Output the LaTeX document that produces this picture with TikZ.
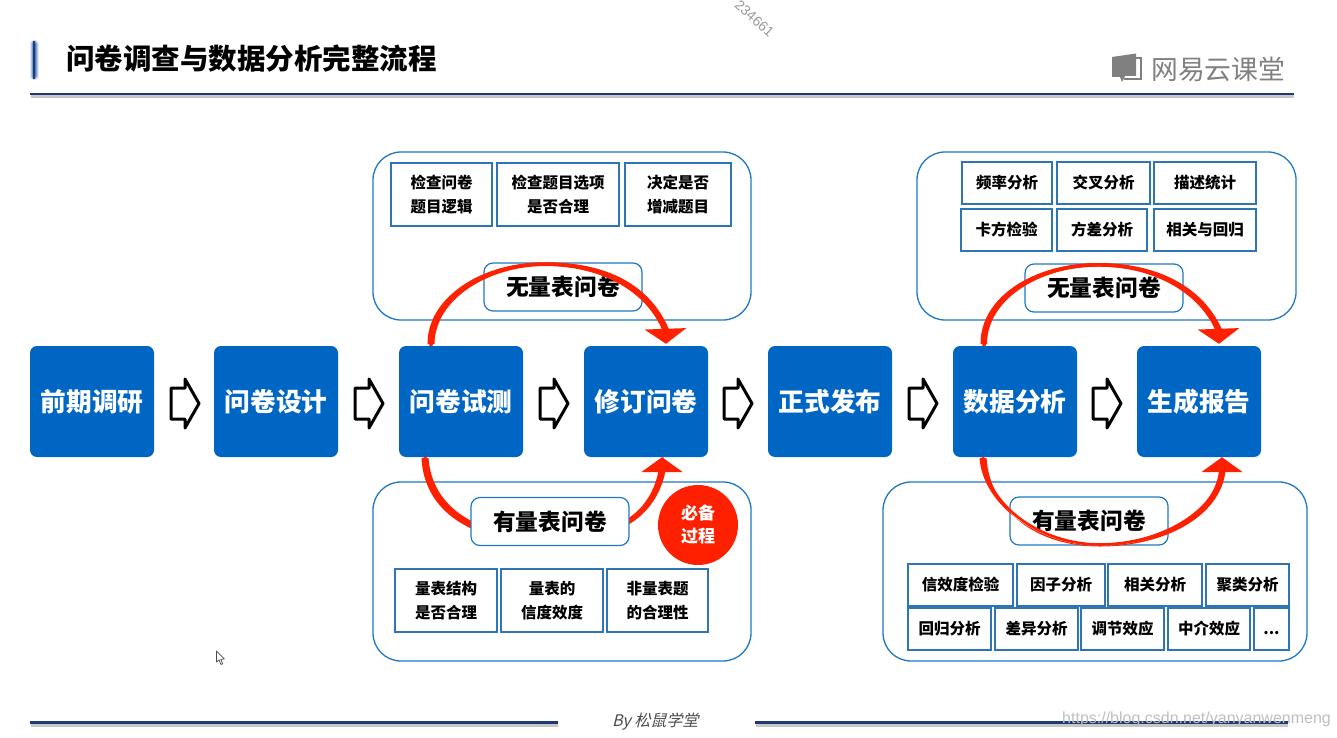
\documentclass[tikz,border=0pt]{standalone}
\usepackage{fontspec}
\usetikzlibrary{arrows.meta,calc}
\setmainfont{Noto Sans CJK SC}
\newfontfamily\slantcjk[FakeSlant=0.25]{Noto Sans CJK SC}
\setsansfont{Liberation Sans}
\definecolor{mainblue}{HTML}{0066C3}
\definecolor{panelblue}{HTML}{1F78C4}
\definecolor{subblue}{HTML}{2E75B6}
\definecolor{arcred}{HTML}{FF2000}
\definecolor{navy}{HTML}{1F3A70}
\definecolor{logogray}{HTML}{808080}
\tikzset{
  x=1pt,y=-1pt,
  stepbox/.style={fill=mainblue,rounded corners=7pt,inner sep=0pt,minimum width=124pt,minimum height=111pt,
    text=white,font=\fontsize{25.7}{28}\selectfont\bfseries,anchor=center},
  panel/.style={draw=panelblue,line width=1.3pt,fill=white,rounded corners=28pt},
  pill/.style={draw=panelblue,line width=1.2pt,fill=white,rounded corners=9pt,inner sep=0pt,
    minimum width=158pt,minimum height=48pt,font=\fontsize{22.7}{26}\selectfont\bfseries},
  subbox/.style={draw=subblue,line width=1.4pt,fill=white,inner sep=0pt,align=center,
    font=\fontsize{15.5}{24}\selectfont\bfseries},
  hollow/.style={draw=black,line width=3pt,fill=white,line join=round},
  taper/.style={fill=arcred,draw=none},
  redarc/.style={draw=arcred,line width=3.4pt,-{Triangle[length=15pt,width=41pt,fill=arcred]}},
  rulemain/.style={draw=navy,line width=2.4pt},
  ruleshadow/.style={draw=black!22,line width=3pt},
}
\newcommand{\subrect}[6]{\node[subbox,minimum width=#3pt-#1pt,minimum height=#4pt-#2pt] (#5) at ({(#1+#3)/2},{(#2+#4)/2}) {#6};}
\newcommand{\hollowarrow}[1]{\draw[hollow] (#1,388) -- ++(14,0) -- ++(0,-9) -- ++(14,24.5) -- ++(-14,24.5) -- ++(0,-9) -- ++(-14,0) -- cycle;}
\newcommand{\stl}[1]{\raisebox{1.2pt}{#1}}
\begin{document}
\begin{tikzpicture}
\useasboundingbox (0,0) rectangle (1337,738);
\fill[white] (0,0) rectangle (1337,738);
\node[rotate=-42,text=black!40,font=\sffamily\fontsize{14}{14}\selectfont] (wm1) at (754.5,18.5) {234661};
% title
\foreach \w/\o in {9/.12,7/.2,5/.3,3/.4}{\draw[draw=blue!60!cyan!70!black,line width=\w pt,opacity=\o,line cap=round] (34,44) -- (34,76);}
\draw[navy,line width=1.2pt] (34,41) -- (34,79);
\node[anchor=west,inner sep=0pt,font=\fontsize{28.5}{30}\selectfont\bfseries] (title) at (66,58.7) {问卷调查与数据分析完整流程};
\draw[ruleshadow] (31,97) -- (1294,97);
\draw[rulemain] (30,94) -- (1294,94);
% logo
\fill[logogray] (1112,57) -- (1136,53.5) -- (1136,76) -- (1125,76) -- (1122,82) -- (1120,77) -- (1112,77) -- cycle;
\draw[logogray,line width=1.2pt] (1136,58) -- (1141,58) -- (1141,79) -- (1124,79);
\node[anchor=west,inner sep=0pt,text=logogray,font=\fontsize{26.8}{28}\selectfont] (logo) at (1151,69) {网易云课堂};
% footer
\draw[ruleshadow] (31,725) -- (558,725);
\draw[rulemain] (30,722.5) -- (558,722.5);
\draw[ruleshadow] (756,725) -- (1288,725);
\draw[rulemain] (755,722.5) -- (1288,722.5);
\node[anchor=west,inner sep=0pt,text=black!70,font=\slantcjk\fontsize{16}{16}\selectfont] (by) at (612,722) {By 松鼠学堂};
\node[anchor=west,inner sep=0pt,text=black!25,font=\sffamily\fontsize{16}{16}\selectfont] (url) at (1062,719) {https://blog.csdn.net/yanyanwenmeng};
% cursor
\draw[black!70,fill=white,line width=.7pt,line join=round] (216.5,651) -- (216.5,662) -- (219,659.8) -- (221,664.5) -- (222.6,663.8) -- (220.8,659.3) -- (224.3,659) -- cycle;
% panels
\node[panel,minimum width=378pt,minimum height=168pt,inner sep=0pt] (ptl) at (562,236) {};
\node[panel,minimum width=378pt,minimum height=179pt,inner sep=0pt] (pbl) at (562,571.5) {};
\node[panel,minimum width=379pt,minimum height=168pt,inner sep=0pt] (ptr) at (1106.5,236) {};
\node[panel,minimum width=424pt,minimum height=179pt,inner sep=0pt] (pbr) at (1095,571.5) {};
% steps
\node[stepbox] (s1) at (92,401.5) {\stl{前期调研}};
\node[stepbox] (s2) at (276,401.5) {\stl{问卷设计}};
\node[stepbox] (s3) at (461,401.5) {\stl{问卷试测}};
\node[stepbox] (s4) at (646,401.5) {\stl{修订问卷}};
\node[stepbox] (s5) at (830,401.5) {\stl{正式发布}};
\node[stepbox] (s6) at (1015,401.5) {\stl{数据分析}};
\node[stepbox] (s7) at (1199,401.5) {\stl{生成报告}};
\hollowarrow{171}\hollowarrow{355}\hollowarrow{540}\hollowarrow{724}\hollowarrow{909}\hollowarrow{1093}
% sub boxes
\subrect{391}{163}{492}{226}{a1}{检查问卷\\题目逻辑}
\subrect{497}{163}{619}{226}{a2}{检查题目选项\\是否合理}
\subrect{625}{163}{731}{226}{a3}{决定是否\\增减题目}
\subrect{395}{569}{497}{632}{b1}{量表结构\\是否合理}
\subrect{501}{569}{603}{632}{b2}{量表的\\信度效度}
\subrect{607}{569}{708}{632}{b3}{非量表题\\的合理性}
\subrect{962}{162}{1052}{204}{c1}{频率分析}
\subrect{1057}{162}{1150}{204}{c2}{交叉分析}
\subrect{1154}{162}{1256}{204}{c3}{描述统计}
\subrect{961}{209}{1052}{251}{c4}{卡方检验}
\subrect{1057}{209}{1147}{251}{c5}{方差分析}
\subrect{1154}{209}{1256}{251}{c6}{相关与回归}
\subrect{908}{564}{1013}{606}{d1}{信效度检验}
\subrect{1017}{564}{1105}{606}{d2}{因子分析}
\subrect{1108}{564}{1202}{606}{d3}{相关分析}
\subrect{1206}{564}{1289}{606}{d4}{聚类分析}
\subrect{908}{608}{991}{650}{d5}{回归分析}
\subrect{995}{608}{1078}{650}{d6}{差异分析}
\subrect{1081}{608}{1164}{650}{d7}{调节效应}
\subrect{1168}{608}{1250}{650}{d8}{中介效应}
\subrect{1254}{608}{1289}{650}{d9}{\vphantom{因}...}
% bottom-left arc, behind its label
\fill[taper] (421.5,458) .. controls (424,511) and (471,543) .. (548,543) .. controls (610,543) and (655,522) .. (665.5,471) -- (658.5,471) .. controls (649,518) and (610,537) .. (548,537) .. controls (478,537) and (432,508) .. (428.5,458) -- cycle;
\draw[redarc] ([xshift=-36pt]s3.south) .. controls (428,510) and (475,540) .. (548,540) .. controls (610,540) and (652,520) .. (662,471) -- ([xshift=16pt]s4.south);
% labels
\node[pill] (q1) at (563,287) {无量表问卷};
\node[pill] (q2) at (550,521.5) {有量表问卷};
\node[pill] (q3) at (1104,288) {无量表问卷};
\node[pill] (q4) at (1089,521) {有量表问卷};
% top arcs and the other bottom arc, over their labels
\fill[taper] (427.5,344) .. controls (427.5,295) and (485,262.5) .. (545,262.5) .. controls (605,262.5) and (650,284) .. (669,329.5) -- (662,329.5) .. controls (645,290) and (600,266) .. (545,266) .. controls (490,266) and (435,298) .. (434.5,344) -- cycle;
\draw[redarc] ([xshift=-30pt]s3.north) .. controls (431,295) and (485,264) .. (545,264) .. controls (605,264) and (648,285) .. (665.5,329.5) -- ([xshift=20pt,yshift=2pt]s4.north);
\fill[taper] (980.5,344) .. controls (980.5,295) and (1037,263) .. (1098,263) .. controls (1155,263) and (1202,285) .. (1222,329.5) -- (1215,329.5) .. controls (1197,290) and (1150,266.5) .. (1098,266.5) .. controls (1042,266.5) and (987,298) .. (987,344) -- cycle;
\draw[redarc] ([xshift=-31pt]s6.north) .. controls (984,295) and (1038,265) .. (1098,265) .. controls (1155,265) and (1200,287) .. (1218.5,329.5) -- ([xshift=20pt,yshift=2pt]s7.north);
\fill[taper] (979.5,458) .. controls (983,506) and (1040,546) .. (1100,546) .. controls (1160,546) and (1215,512) .. (1219,470.5) -- (1225.5,470.5) .. controls (1221,516) and (1165,546.5) .. (1100,546.5) .. controls (1035,546.5) and (990,510) .. (986.5,458) -- cycle;
\draw[redarc,line width=2.6pt] ([xshift=-32pt]s6.south) .. controls (986,505) and (1040,544.5) .. (1100,544.5) .. controls (1160,544.5) and (1216,512) .. (1222,470.5) -- ([xshift=23pt]s7.south);
% required-step badge
\node[circle,fill=arcred,minimum size=80pt,inner sep=0pt,text=white,align=center,font=\fontsize{17}{23}\selectfont\bfseries] (must) at (698,525) {必备\\过程};
\end{tikzpicture}
\end{document}
